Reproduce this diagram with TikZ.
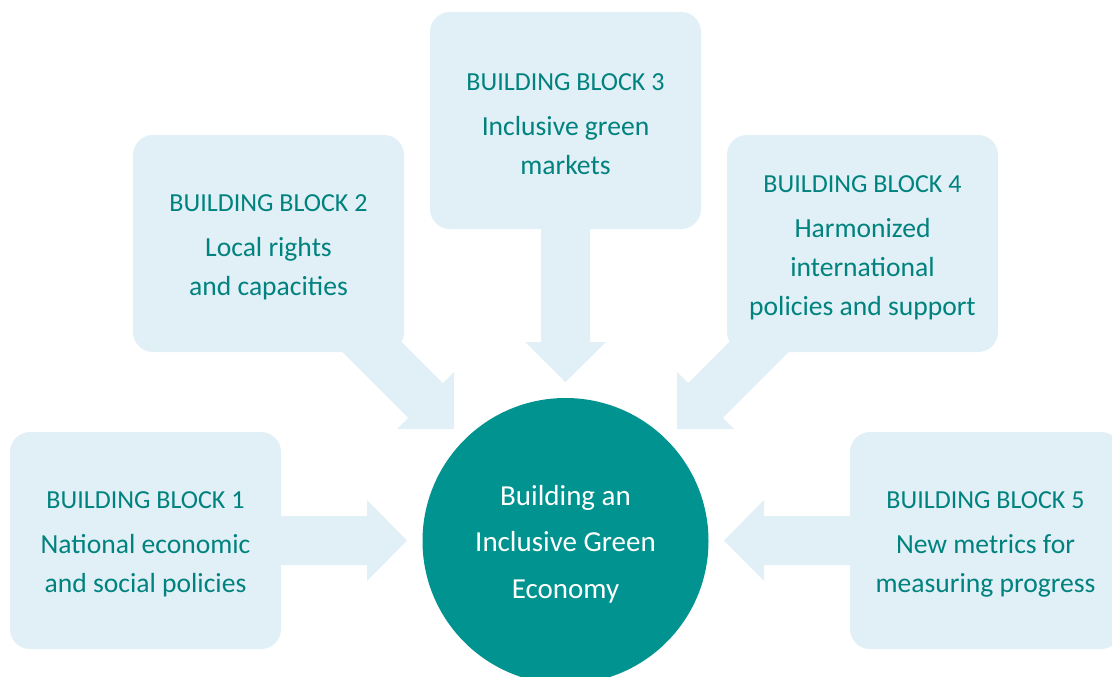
\documentclass[tikz,border=0pt]{standalone}
\usepackage{fontspec}
\setmainfont{Carlito}
\definecolor{boxfill}{HTML}{E1EFF6}
\definecolor{tealtext}{HTML}{00827E}
\definecolor{tealcircle}{HTML}{00938F}
\newcommand{\bbtitle}[1]{{\fontsize{26}{30}\selectfont\rule{0pt}{25pt}#1}\\[6pt]}
\begin{document}
\begin{tikzpicture}[x=1pt,y=-1pt,
  blockbox/.style={fill=boxfill, rounded corners=20pt, minimum width=271pt, minimum height=217pt,
    inner sep=0pt, align=center, text=tealtext, font=\fontsize{27.6}{39}\selectfont},
  blockarrow/.style={fill=boxfill},
  hub/.style={circle, fill=tealcircle, minimum size=286pt, inner sep=0pt, align=center,
    text=white, font=\fontsize{29}{46.5}\selectfont}]
\useasboundingbox (0,0) rectangle (1112,677);
% arrows (drawn first, under boxes)
\coordinate (t1) at (407,540.5);
\coordinate (t3) at (565.5,382);
\coordinate (t2) at (454,429);
\coordinate (t4) at (677,429);
\coordinate (t5) at (724,540.5);
\fill[blockarrow] (270,516) -- (367,516) -- (367,500) -- (t1) -- (367,581) -- (367,565) -- (270,565) -- cycle;
\fill[blockarrow] (861,516) -- (764,516) -- (764,500) -- (t5) -- (764,581) -- (764,565) -- (861,565) -- cycle;
\fill[blockarrow] (541,220) -- (541,342) -- (525,342) -- (t3) -- (606,342) -- (590,342) -- (590,220) -- cycle;
\fill[blockarrow] (362.8,303.2) -- (442.8,383.2) -- (454,372) -- (t2) -- (397,429) -- (408.2,417.8) -- (328.2,337.8) -- cycle;
\fill[blockarrow] (768.2,303.2) -- (688.2,383.2) -- (677,372) -- (t4) -- (734,429) -- (722.8,417.8) -- (802.8,337.8) -- cycle;
% boxes
\node[blockbox] (b1) at (145.5,540.5) {\bbtitle{BUILDING BLOCK 1}National economic\\and social policies};
\node[blockbox] (b2) at (268.5,243.5) {\bbtitle{BUILDING BLOCK 2}Local rights\\and capacities};
\node[blockbox] (b3) at (565.5,120.5) {\bbtitle{BUILDING BLOCK 3}Inclusive green\\markets};
\node[blockbox] (b4) at (862.5,243.5) {\bbtitle{BUILDING BLOCK 4}Harmonized\\international\\policies and support};
\node[blockbox] (b5) at (985.5,540.5) {\bbtitle{BUILDING BLOCK 5}New metrics for\\measuring progress};
% hub
\node[hub] (hub) at (565.5,541) {\rule{0pt}{26pt}Building an\\Inclusive Green\\Economy};
\end{tikzpicture}
\end{document}
